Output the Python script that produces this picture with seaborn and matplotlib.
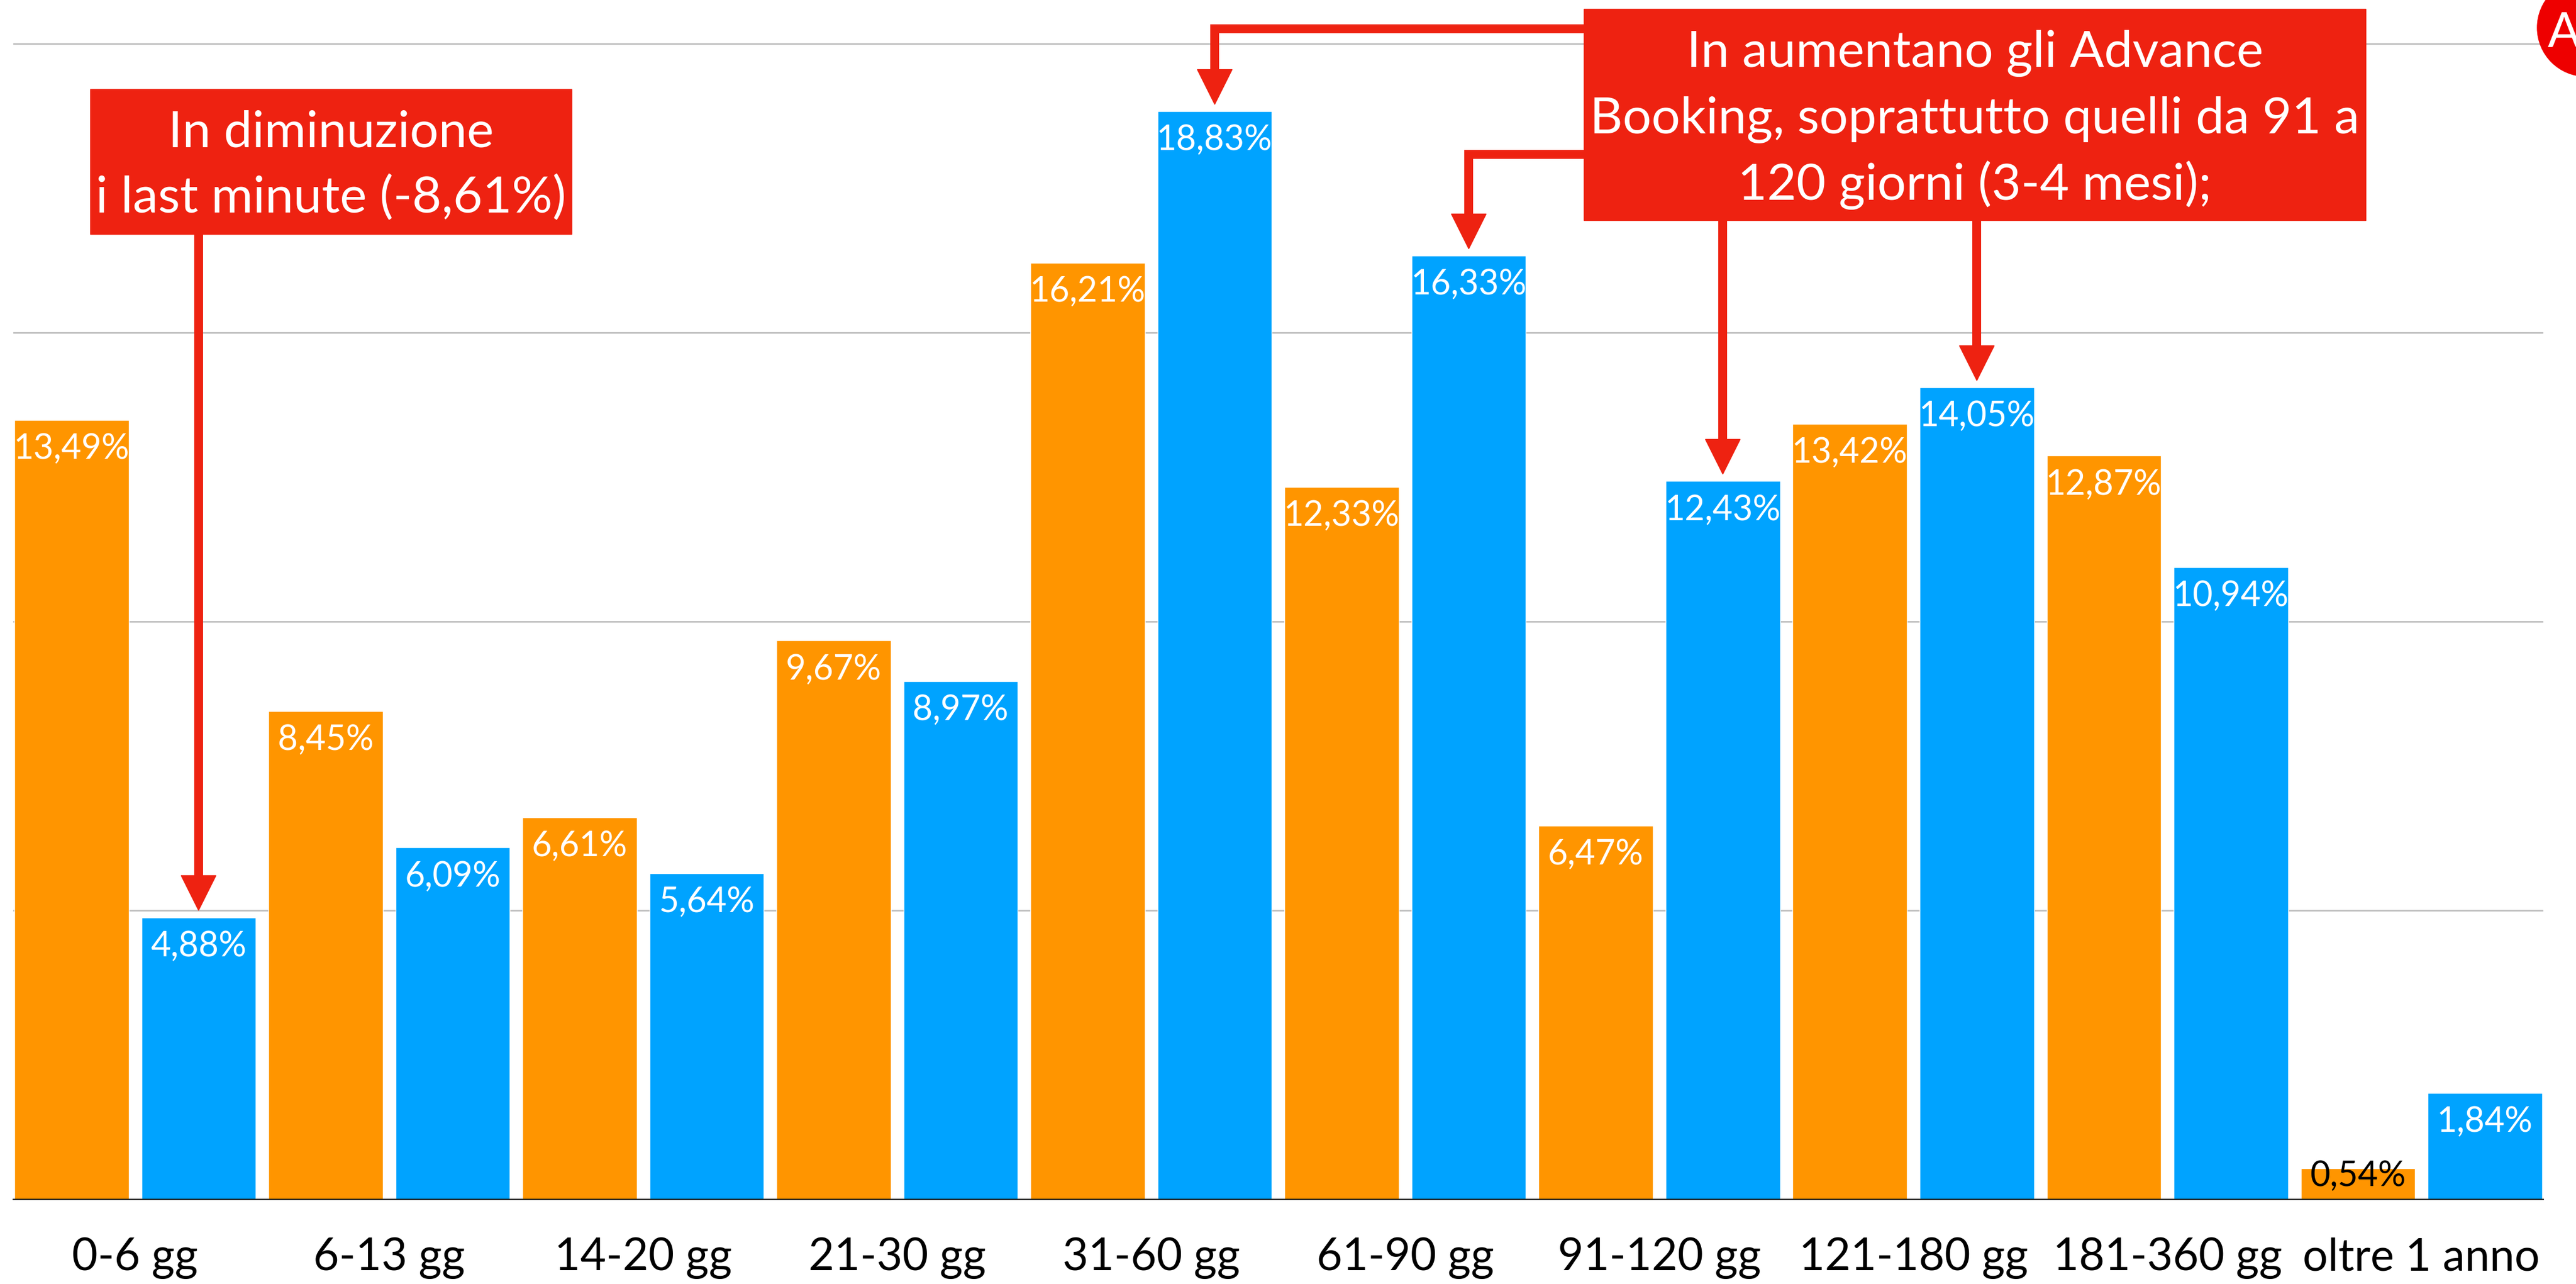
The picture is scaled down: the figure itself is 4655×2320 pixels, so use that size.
import pandas as pd
import matplotlib.pyplot as plt
import seaborn as sns
from matplotlib.patches import Rectangle, Circle, Polygon

# Dati del grafico (quota di prenotazioni per anticipo)
intervalli = ['0-6 gg', '6-13 gg', '14-20 gg', '21-30 gg', '31-60 gg',
              '61-90 gg', '91-120 gg', '121-180 gg', '181-360 gg', 'oltre 1 anno']
quota_prima = [13.49, 8.45, 6.61, 9.67, 16.21, 12.33, 6.47, 13.42, 12.87, 0.54]
quota_dopo = [4.88, 6.09, 5.64, 8.97, 18.83, 16.33, 12.43, 14.05, 10.94, 1.84]
serie = ['prima', 'dopo']

testo_box1 = ['In diminuzione', 'i last minute (-8,61%)']
testo_box2 = ['In aumentano gli Advance',
              'Booking, soprattutto quelli da 91 a',
              '120 giorni (3-4 mesi);']

ARANCIO = '#FF9500'
AZZURRO = '#00A3FF'
ROSSO = '#EE2211'

df = pd.DataFrame({
    'intervallo': intervalli * 2,
    'quota': quota_prima + quota_dopo,
    'serie': [serie[0]] * len(intervalli) + [serie[1]] * len(intervalli),
})

sns.set_theme(style='white')
plt.rcParams['font.family'] = ['Lato', 'DejaVu Sans']

W, H = 4655, 2320
fig = plt.figure(figsize=(W / 100, H / 100), dpi=100)
ax = fig.add_axes([23.7 / W, (H - 2167) / H, (4596 - 23.7) / W, 2167 / H])

sns.barplot(data=df, x='intervallo', y='quota', hue='serie',
            palette=[ARANCIO, AZZURRO], width=1.0, gap=0.1, saturation=1,
            errorbar=None, legend=False, ax=ax)

ax.set_xlim(-0.48, 9.48)
ax.set_ylim(0, 2167 / 104.4)
ax.set_yticks([5, 10, 15, 20])
ax.yaxis.grid(True, color='#BDBDBD', lw=2)
ax.set_axisbelow(True)
ax.tick_params(axis='y', left=False, labelleft=False)
ax.tick_params(axis='x', bottom=False, labelsize=58, pad=43, labelcolor='black')
ax.set_xlabel('')
ax.set_ylabel('')
for s in ['left', 'right', 'top']:
    ax.spines[s].set_visible(False)
ax.spines['bottom'].set_color('black')
ax.spines['bottom'].set_linewidth(1.5)

# etichette percentuali dentro le barre
for cont, vals in zip(ax.containers, [quota_prima, quota_dopo]):
    for bar, v in zip(cont, vals):
        xc = bar.get_x() + bar.get_width() / 2
        testo = f'{v:.2f}'.replace('.', ',') + '%'
        if v < 1:
            ax.annotate(testo, (xc, 0), xytext=(0, 17), textcoords='offset points',
                        ha='center', va='baseline', color='black', fontsize=45)
        else:
            ax.annotate(testo, (xc, v), xytext=(0, -17), textcoords='offset points',
                        ha='center', va='top', color='white', fontsize=45)


# --- frecce e riquadri ---
def px2data(xp, yp):
    return ax.transData.inverted().transform((xp, H - yp))


def data2px(xd, yd):
    xp, yp = ax.transData.transform((xd, yd))
    return xp, H - yp


def freccia(i, partenza_y, partenza_x=None):
    bar = ax.containers[1][i]
    xd = bar.get_x() + bar.get_width() / 2
    tip_x, tip_y = data2px(xd, quota_dopo[i] + 0.12)
    punti = []
    if partenza_x is not None:
        punti.append((partenza_x, partenza_y))
    punti.append((tip_x, partenza_y))
    punti.append((tip_x, tip_y - 63))
    dati = [px2data(*p) for p in punti]
    ax.plot([p[0] for p in dati], [p[1] for p in dati], color=ROSSO, lw=11.5,
            solid_capstyle='butt', solid_joinstyle='miter', clip_on=False, zorder=5)
    tri = [px2data(tip_x - 31.5, tip_y - 63), px2data(tip_x + 31.5, tip_y - 63),
           px2data(tip_x, tip_y)]
    ax.add_patch(Polygon(tri, closed=True, color=ROSSO, clip_on=False, zorder=5))


freccia(0, 410)
freccia(4, 52, 2880)
freccia(5, 279, 2880)
freccia(6, 385)
freccia(7, 385)


def riquadro(x0, y0, x1, y1, righe, baseline0, passo):
    fig.add_artist(Rectangle((x0 / 100, (H - y1) / 100), (x1 - x0) / 100, (y1 - y0) / 100,
                             transform=fig.dpi_scale_trans, color=ROSSO, zorder=10))
    for k, r in enumerate(righe):
        fig.text((x0 + x1) / 200, (H - baseline0 - k * passo) / 100, r,
                 transform=fig.dpi_scale_trans, ha='center', va='baseline',
                 color='white', fontsize=66, zorder=11)


riquadro(163, 161, 1033, 423, testo_box1, 265, 120)
riquadro(2862, 16, 4275, 398, testo_box2, 121, 120)

# logo in alto a destra
fig.add_artist(Circle((4673 / 100, (H - 50) / 100), 0.88, transform=fig.dpi_scale_trans,
                      color='#EE0000', zorder=10))
fig.text(4604 / 100, (H - 85) / 100, 'A', transform=fig.dpi_scale_trans,
         ha='left', va='baseline', color='white', fontsize=63, zorder=11)

fig.savefig('out.png', dpi=100)
